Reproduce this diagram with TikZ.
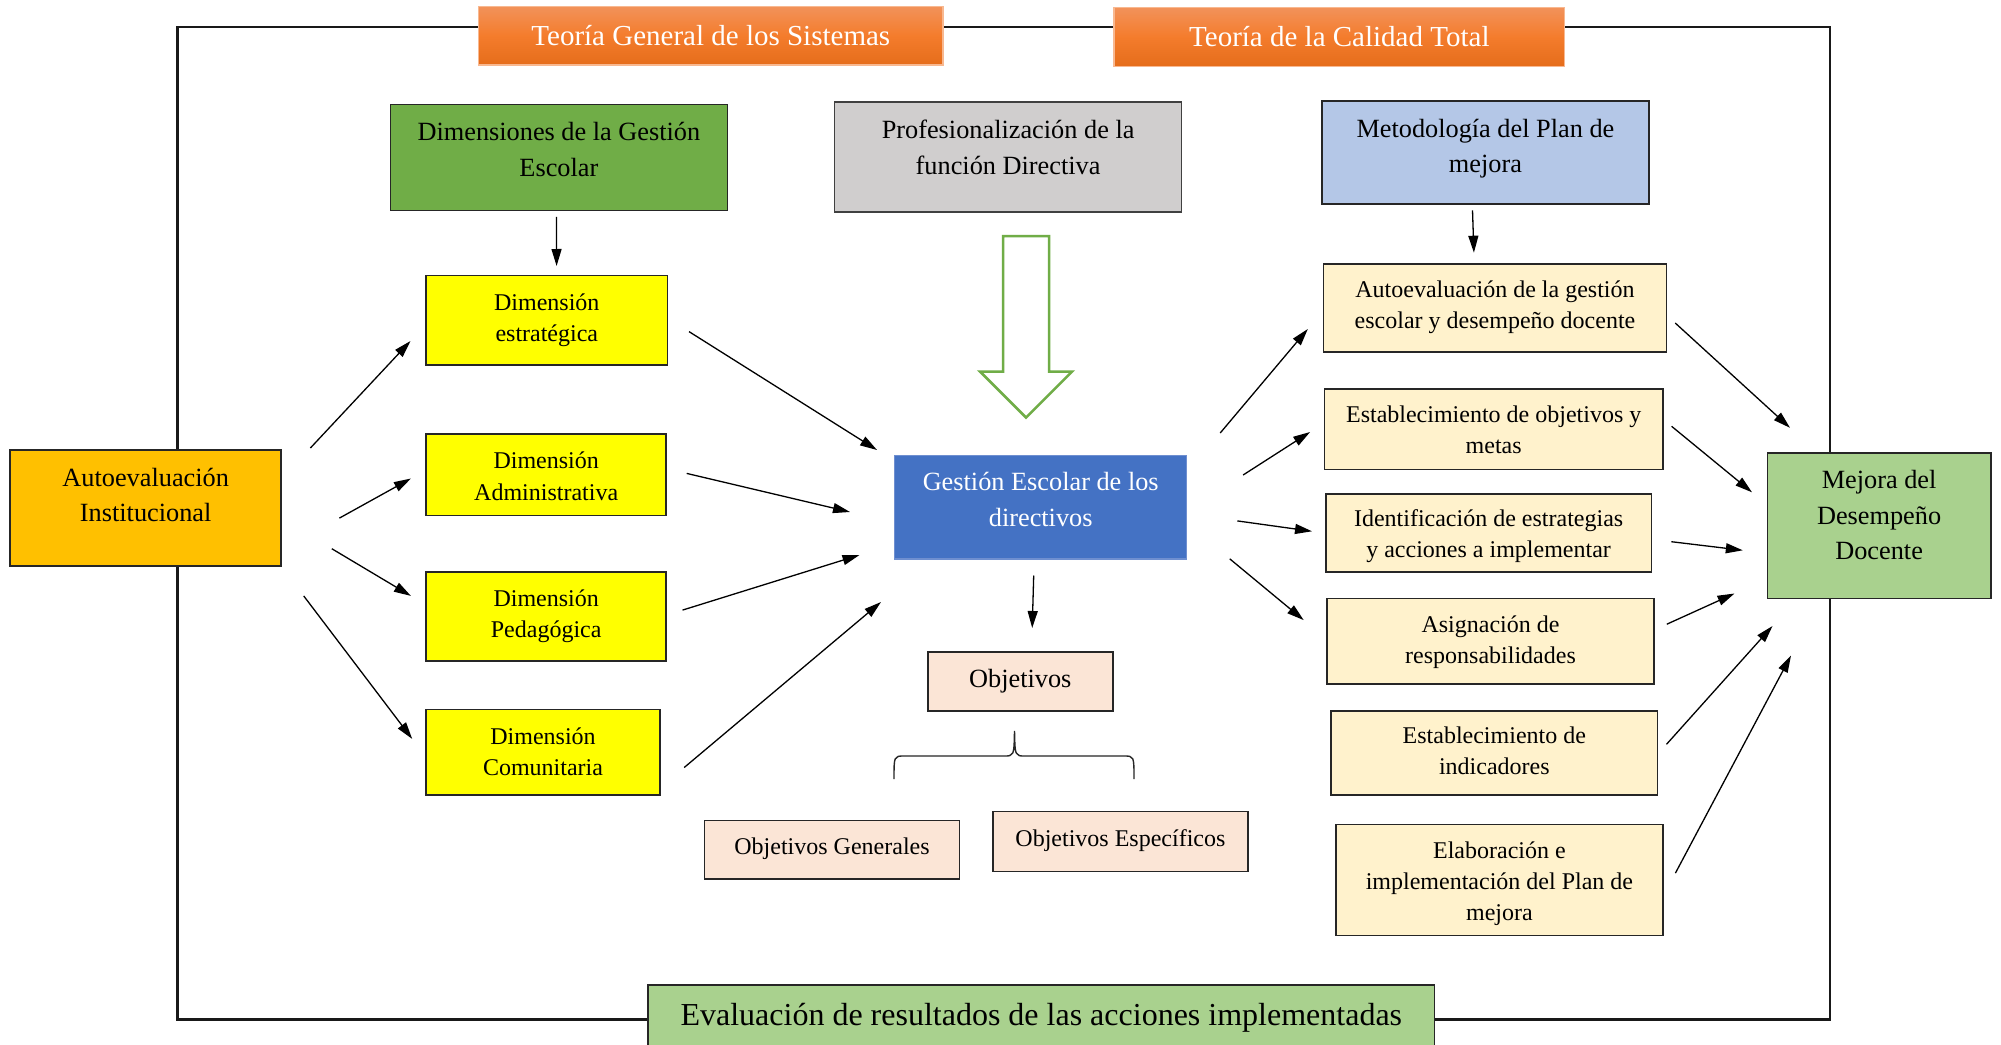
\documentclass[tikz,border=0pt]{standalone}
\usepackage{fontspec}
\setmainfont{Liberation Serif}
\usetikzlibrary{arrows.meta,calc}
\definecolor{orgTop}{HTML}{F2925A}
\definecolor{orgMid}{HTML}{F47C2C}
\definecolor{orgBot}{HTML}{E56D1B}
\definecolor{orgLine}{HTML}{F8B890}
\definecolor{dimGreen}{HTML}{70AD47}
\definecolor{profGray}{HTML}{D0CECE}
\definecolor{metBlue}{HTML}{B4C7E7}
\definecolor{dimYellow}{HTML}{FFFF00}
\definecolor{instGold}{HTML}{FFC000}
\definecolor{gesBlue}{HTML}{4472C4}
\definecolor{gesLine}{HTML}{6F8FD0}
\definecolor{objPeach}{HTML}{FBE5D6}
\definecolor{metCream}{HTML}{FFF2CC}
\definecolor{resGreen}{HTML}{A9D18E}
\begin{document}
\begin{tikzpicture}[x=1pt,y=-1pt,
  bx/.style={draw=black!85, line width=1.6pt, inner sep=0pt},
  titlebox/.style={draw=orgLine, line width=1.2pt, inner sep=0pt, top color=orgTop, bottom color=orgBot, middle color=orgMid, text=white, font=\fontsize{29}{35}\selectfont},
  tA/.style={align=center, inner sep=0pt, font=\fontsize{24}{31.3}\selectfont},
  tB/.style={align=center, inner sep=0pt, font=\fontsize{26.3}{35.5}\selectfont},
  arr/.style={line width=1.3pt, -{Triangle[length=17pt,width=10pt]}},
]
\clip (0,0) rectangle (2001,1044);
\fill[white] (0,0) rectangle (2001,1044);

% outer frame
\draw[line width=2.6pt, black!90] (177.4,26.8) rectangle (1830,1019.6);

% titles
\node[titlebox, minimum width=464.5, minimum height=58.7] (tgs) at (710.8,35.7) {Teoría General de los Sistemas};
\node[titlebox, minimum width=450.5, minimum height=58.7] (tct) at (1339.3,37) {Teoría de la Calidad Total};

% top boxes
\node[bx, fill=dimGreen, minimum width=336.9, minimum height=105.9] (dge) at (558.9,157.6) {};
\node[tB] (dgeT) at (558.9,149.5) {Dimensiones de la Gestión\\Escolar};
\node[bx, fill=profGray, draw=black!75, minimum width=347.1, minimum height=109.7] (prof) at (1008.1,157) {};
\node[tB] (profT) at (1008.1,147.5) {Profesionalización de la\\función Directiva};
\node[bx, fill=metBlue, minimum width=326.7, minimum height=103.4] (met) at (1485.4,152.5) {};
\node[tB] (metT) at (1485.4,148.5) {Metodología del Plan de\\mejora};

% dimension boxes
\node[bx, fill=dimYellow, minimum width=241.2, minimum height=89.3] (d1) at (546.8,320.3) {};
\node[tA] (d1T) at (546.8,320.5) {Dimensión\\estratégica};
\node[bx, fill=dimYellow, minimum width=239.9, minimum height=81.7] (d2) at (546.2,474.7) {};
\node[tA] (d2T) at (546.2,476.3) {Dimensión\\Administrativa};
\node[bx, fill=dimYellow, minimum width=239.9, minimum height=89.3] (d3) at (546.2,616.4) {};
\node[tA] (d3T) at (546.2,616.3) {Dimensión\\Pedagógica};
\node[bx, fill=dimYellow, minimum width=233.5, minimum height=85.5] (d4) at (543,752.3) {};
\node[tA] (d4T) at (543,751.5) {Dimensión\\Comunitaria};

% left box
\node[bx, fill=instGold, minimum width=271, minimum height=115.6] (ai) at (145.7,508) {};
\node[tB] (aiT) at (145.7,495) {Autoevaluación\\Institucional};

% central box
\node[draw=gesLine, line width=1.2pt, inner sep=0pt, fill=gesBlue, minimum width=292.2, minimum height=103.4] (ge) at (1040.7,507.3) {};
\node[tB, text=white] (geT) at (1040.7,499.5) {Gestión Escolar de los\\directivos};

% objetivos
\node[bx, fill=objPeach, minimum width=185, minimum height=58.7] (obj) at (1020.3,681.4) {};
\node[tB] (objT) at (1020.3,681.5) {Objetivos};
\node[bx, fill=objPeach, minimum width=255.2, minimum height=58.7] (og) at (832,849.9) {};
\node[tA] (ogT) at (832,849) {Objetivos Generales};
\node[bx, fill=objPeach, minimum width=255.2, minimum height=60] (oe) at (1120.4,841.6) {};
\node[tA] (oeT) at (1120.4,841) {Objetivos Específicos};

% methodology steps
\node[bx, fill=metCream, minimum width=343.3, minimum height=88.1] (m1) at (1495,308.2) {};
\node[tA] (m1T) at (1495,307) {Autoevaluación de la gestión\\escolar y desempeño docente};
\node[bx, fill=metCream, minimum width=338.2, minimum height=80.4] (m2) at (1493.7,429.4) {};
\node[tA] (m2T) at (1493.7,430) {Establecimiento de objetivos y\\metas};
\node[bx, fill=metCream, minimum width=325.4, minimum height=77.8] (m3) at (1488.6,532.8) {};
\node[tA] (m3T) at (1488.6,535.8) {Identificación de estrategias\\y acciones a implementar};
\node[bx, fill=metCream, minimum width=326.7, minimum height=85.5] (m4) at (1490.5,641.2) {};
\node[tA] (m4T) at (1490.5,642.5) {Asignación de\\responsabilidades};
\node[bx, fill=metCream, minimum width=326.7, minimum height=84.2] (m5) at (1494.3,752.9) {};
\node[tA] (m5T) at (1494.3,751) {Establecimiento de\\indicadores};
\node[bx, fill=metCream, minimum width=326.7, minimum height=111] (m6) at (1499.4,879.9) {};
\node[tA] (m6T) at (1499.4,883.5) {Elaboración e\\implementación del Plan de\\mejora};

% right box
\node[bx, fill=resGreen, minimum width=223.3, minimum height=145.5] (mj) at (1879.1,525.8) {};
\node[tB] (mjT) at (1879.1,515) {Mejora del\\Desempeño\\Docente};

% bottom box
\node[bx, fill=resGreen, minimum width=786.1, minimum height=66, font=\fontsize{32}{38}\selectfont] (ev) at (1041.3,1018.2) {Evaluación de resultados de las acciones implementadas};

% hollow green arrow
\draw[draw=dimGreen, line width=2.5pt, fill=white, line join=miter]
  (1003,236) -- (1049,236) -- (1049,371.5) -- (1072,371.5) -- (1026,417.5) -- (980,371.5) -- (1003,371.5) -- cycle;

% brace
\draw[line width=1.4pt, black!85]
  (894,779) .. controls (894,756) .. (904,756) -- (1004,756) .. controls (1014,756) .. (1014.5,731)
  .. controls (1015,756) .. (1025,756) -- (1124,756) .. controls (1134,756) .. (1134,779);

% arrow endpoints
\coordinate (a0s) at (556.4,216.9); \coordinate (a0e) at (556.6,266);
\coordinate (L1s) at (310.4,448); \coordinate (L1e) at (410.5,341);
\coordinate (L2s) at (339.4,518.1); \coordinate (L2e) at (410.9,478.5);
\coordinate (L3s) at (331.8,548.7); \coordinate (L3e) at (410.9,595.9);
\coordinate (L4s) at (303.7,595.9); \coordinate (L4e) at (412.2,738.9);
\coordinate (R1s) at (689,331.6); \coordinate (R1e) at (877,450);
\coordinate (R2s) at (686.7,473.4); \coordinate (R2e) at (850,512);
\coordinate (R3s) at (682.5,610.1); \coordinate (R3e) at (859.5,555);
\coordinate (R4s) at (684.2,767.5); \coordinate (R4e) at (881,602);
\coordinate (gOs) at (1033.7,575.5); \coordinate (gOe) at (1032.2,628);
\coordinate (G1s) at (1220.2,433); \coordinate (G1e) at (1307.8,329);
\coordinate (G2s) at (1243.1,475); \coordinate (G2e) at (1310.1,432);
\coordinate (G3s) at (1237.3,520.9); \coordinate (G3e) at (1312,531.3);
\coordinate (G4s) at (1229.7,558.8); \coordinate (G4e) at (1303.7,620.1);
\coordinate (mMs) at (1472.5,210.3); \coordinate (mMe) at (1473.9,252.7);
\coordinate (M1s) at (1675.2,323); \coordinate (M1e) at (1790,427.8);
\coordinate (M2s) at (1671.6,426.3); \coordinate (M2e) at (1752,492.3);
\coordinate (M3s) at (1671.3,541.7); \coordinate (M3e) at (1742.8,550.3);
\coordinate (M4s) at (1666.8,624.2); \coordinate (M4e) at (1734.5,593.5);
\coordinate (M5s) at (1666.5,744.3); \coordinate (M5e) at (1772.5,626);
\coordinate (M6s) at (1675.4,873.1); \coordinate (M6e) at (1791,655.5);

\foreach \a in {a0,L1,L2,L3,L4,R1,R2,R3,R4,gO,G1,G2,G3,G4,mM,M1,M2,M3,M4,M5,M6}
  \draw[arr] (\a s) -- (\a e);
\end{tikzpicture}
\end{document}
